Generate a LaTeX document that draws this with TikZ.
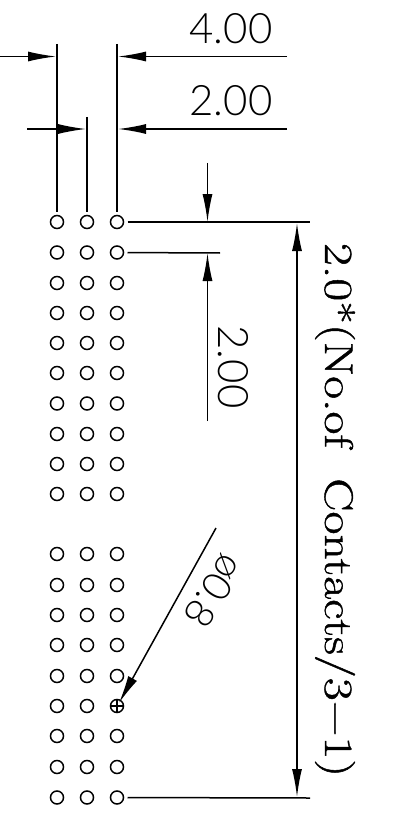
\documentclass[tikz,border=0pt]{standalone}
\usepackage{fontspec}
\usetikzlibrary{arrows.meta}
\newfontfamily\thinfont{Lato Light}
\newfontfamily\heavyserif[FakeBold=1.0]{Latin Modern Roman}
\tikzset{
  pin/.style={circle,draw,line width=1.5pt,minimum size=13pt,inner sep=0pt,outer sep=4pt},
  ln/.style={line width=1.5pt},
  dim/.style={ln,-{Latex[length=28pt,width=10pt]}},
  dimboth/.style={ln,{Latex[length=28pt,width=10pt]}-{Latex[length=28pt,width=10pt]}},
  thintxt/.style={inner sep=0pt,font=\thinfont\fontsize{42}{42}\selectfont},
  serif/.style={inner sep=0pt,rotate=-90,font=\heavyserif\fontsize{30}{30}\selectfont}
}
\begin{document}
\begin{tikzpicture}[x=1pt,y=-1pt]
\useasboundingbox (0,0) rectangle (414,821);
\fill[white] (0,0) rectangle (414,821);
% pins
\foreach \c/\x in {1/57,2/87,3/117}{
  \foreach \r/\y in {1/222,2/252.5,3/283,4/313,5/343,6/373,7/403.5,8/434,9/464,10/494,
      11/554,12/585,13/615,14/645,15/676,16/706,17/736,18/767,19/797.5}{
    \node[pin] (p\c-\r) at (\x,\y) {};
  }
}
\draw[line width=1.1pt] (p3-16.center) ++(-6.5,0) -- ++(13,0) (p3-16.center) ++(0,-6.5) -- ++(0,13);
% free ends
\coordinate (e1) at (57,44);
\coordinate (e2) at (87,117);
\coordinate (e3) at (117,44);
\coordinate (a1s) at (0,56.5);
\coordinate (a1e) at (56,56.5);
\coordinate (a2s) at (287,56.5);
\coordinate (a2e) at (118,56.5);
\coordinate (b1s) at (27,129);
\coordinate (b1e) at (86,129);
\coordinate (b2s) at (287,129);
\coordinate (b2e) at (118,129);
\coordinate (t1) at (310,222);
\coordinate (t2) at (220,253);
\coordinate (t3) at (310,798);
\coordinate (v1s) at (207.5,163);
\coordinate (v1e) at (207.5,222);
\coordinate (v2s) at (207.5,421);
\coordinate (v2e) at (207.5,253);
\coordinate (w1) at (297,223);
\coordinate (w2) at (297,797);
\coordinate (l1) at (216,528);
\coordinate (l2) at (119,703);
% extension lines
\draw[ln] (e1) -- (p1-1);
\draw[ln] (e2) -- (p2-1);
\draw[ln] (e3) -- (p3-1);
\draw[ln] (p3-1) -- (t1);
\draw[ln] (p3-2) -- (t2);
\draw[ln] (p3-19) -- (t3);
% dimension lines
\draw[dim] (a1s) -- (a1e);
\draw[dim] (a2s) -- (a2e);
\draw[dim] (b1s) -- (b1e);
\draw[dim] (b2s) -- (b2e);
\draw[dim] (v1s) -- (v1e);
\draw[dim] (v2s) -- (v2e);
\draw[dimboth] (w1) -- (w2);
\draw[dim] (l1) -- (l2);
% labels
\node[thintxt] (t400) at (231,29) {4.00};
\node[thintxt] (t200) at (231,101) {2.00};
\node[thintxt,rotate=-90] (t200v) at (233.5,367) {2.00};
\node[thintxt,rotate=-123] (tdia) at (214,591) {\scalebox{0.95}[0.95]{ø0.8}};
\node[serif] (tlong) at (335,510) {\resizebox*{534pt}{40pt}{2.0*(No.of\ \ Contacts/3−1)}};
\end{tikzpicture}
\end{document}
